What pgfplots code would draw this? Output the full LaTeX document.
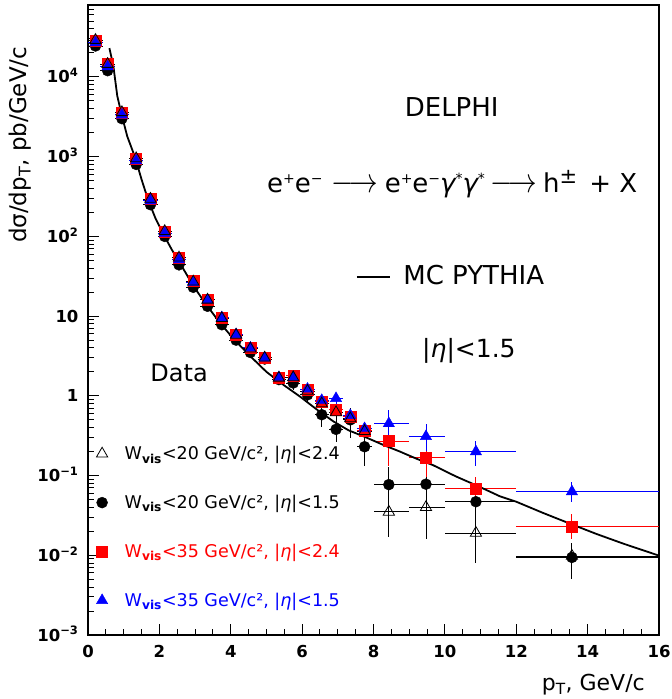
\documentclass[border=0pt]{standalone}
\usepackage{fontspec}
\setmainfont{DejaVu Sans}
\usepackage{graphicx}
\usepackage{pgfplots}
\usepackage{pgfplotstable}
\pgfplotsset{compat=1.18}
\newcommand\sups[2][14]{\raisebox{9pt}{\fontsize{#1}{#1}\selectfont #2}}
\newcommand\arr{\scalebox{1.15}[1.4]{$\longrightarrow$}}

\pgfplotstableread{
x y exm exp eyp eym
0.21 28500 0.2 0.2 2500 2500
0.55 14500 0.2 0.2 1300 1300
0.95 3600 0.2 0.2 300 300
1.35 950 0.2 0.2 80 80
1.75 295 0.2 0.2 25 25
2.15 116 0.2 0.2 10 10
2.55 54 0.2 0.2 5 5
2.95 27.5 0.2 0.2 2.5 2.5
3.35 16.2 0.2 0.2 1.5 1.5
3.75 9.6 0.2 0.2 0.9 0.9
4.15 5.9 0.2 0.2 0.6 0.6
4.55 4.0 0.2 0.2 0.4 0.4
4.95 3.0 0.2 0.2 0.3 0.3
5.35 1.68 0.2 0.2 0.2 0.2
5.75 1.80 0.2 0.2 0.22 0.22
6.15 1.20 0.2 0.2 0.15 0.15
6.55 0.85 0.2 0.2 0.12 0.12
6.95 0.68 0.2 0.2 0.14 0.14
7.35 0.55 0.2 0.2 0.1 0.1
7.75 0.37 0.2 0.2 0.08 0.08
8.43 0.27 0.43 0.57 0.106 0.14
9.47 0.17 0.47 0.53 0.14 0.073
10.87 0.068 0.87 1.13 0.027 0.014
13.56 0.023 1.56 2.44 0.0095 0.007
}\redtab

\pgfplotstableread{
x y exm exp eyp eym
0.21 27000 0.2 0.2 2400 2400
0.55 13500 0.2 0.2 1200 1200
0.95 3350 0.2 0.2 300 300
1.35 890 0.2 0.2 80 80
1.75 280 0.2 0.2 25 25
2.15 110 0.2 0.2 10 10
2.55 51 0.2 0.2 5 5
2.95 26.5 0.2 0.2 2.5 2.5
3.35 16.0 0.2 0.2 1.5 1.5
3.75 9.6 0.2 0.2 0.9 0.9
4.15 5.9 0.2 0.2 0.6 0.6
4.55 4.0 0.2 0.2 0.4 0.4
4.95 3.0 0.2 0.2 0.3 0.3
5.35 1.70 0.2 0.2 0.2 0.2
5.75 1.70 0.2 0.2 0.22 0.22
6.15 1.22 0.2 0.2 0.15 0.15
6.55 0.88 0.2 0.2 0.13 0.13
6.95 0.93 0.2 0.2 0.15 0.15
7.35 0.57 0.2 0.2 0.1 0.1
7.75 0.39 0.2 0.2 0.08 0.08
8.43 0.45 0.43 0.57 0.22 0.17
9.47 0.31 0.47 0.53 0.14 0.105
10.87 0.20 0.87 1.13 0.07 0.07
13.56 0.063 1.56 2.44 0.021 0.017
}\bluetab

\pgfplotstableread{
x y exm exp eyp eym
0.21 24500 0.2 0.2 2200 2200
0.55 12000 0.2 0.2 1100 1100
0.95 3000 0.2 0.2 270 270
1.35 800 0.2 0.2 70 70
1.75 250 0.2 0.2 22 22
2.15 100 0.2 0.2 9 9
2.55 44 0.2 0.2 4 4
2.95 23 0.2 0.2 2.2 2.2
3.35 13.3 0.2 0.2 1.3 1.3
3.75 7.8 0.2 0.2 0.8 0.8
4.15 5.0 0.2 0.2 0.5 0.5
4.55 3.5 0.2 0.2 0.4 0.4
4.95 2.9 0.2 0.2 0.35 0.35
5.35 1.6 0.2 0.2 0.22 0.22
5.75 1.45 0.2 0.2 0.25 0.25
6.15 1.03 0.2 0.2 0.2 0.2
6.55 0.58 0.2 0.2 0.24 0.17
6.95 0.38 0.2 0.2 0.25 0.12
7.35 0.50 0.2 0.2 0.2 0.2
7.75 0.23 0.2 0.2 0.08 0.1
8.43 0.077 0.43 0.57 0.05 0.027
9.47 0.078 0.47 0.53 0.04 0.028
10.87 0.047 0.87 1.13 0.02 0.015
13.56 0.0094 1.56 2.44 0.005 0.0044
}\blacktab

\pgfplotstableread{
x y exm exp eyp eym
0.21 29000 0.2 0.2 2500 2500
0.55 14500 0.2 0.2 1300 1300
0.95 3600 0.2 0.2 300 300
1.35 950 0.2 0.2 80 80
1.75 295 0.2 0.2 25 25
2.15 116 0.2 0.2 10 10
2.55 54 0.2 0.2 5 5
2.95 27 0.2 0.2 2.5 2.5
3.35 16 0.2 0.2 1.5 1.5
3.75 9.4 0.2 0.2 0.9 0.9
4.15 5.8 0.2 0.2 0.6 0.6
4.55 3.9 0.2 0.2 0.4 0.4
4.95 3.0 0.2 0.2 0.3 0.3
5.35 1.68 0.2 0.2 0.2 0.2
5.75 1.70 0.2 0.2 0.22 0.22
6.15 1.15 0.2 0.2 0.15 0.15
6.55 0.80 0.2 0.2 0.14 0.14
6.95 0.62 0.2 0.2 0.15 0.15
7.35 0.52 0.2 0.2 0.12 0.12
7.75 0.36 0.2 0.2 0.09 0.09
8.43 0.035 0.43 0.57 0.015 0.018
9.47 0.040 0.47 0.53 0.033 0.024
10.87 0.019 0.87 1.13 0.017 0.011
13.56 0.0098 1.56 2.44 0.003 0.003
}\opentab

\pgfplotstableread{
x y
0.60 23000
0.71 13800
0.82 5800
0.94 3400
1.10 1800
1.32 980
1.50 520
1.69 282
1.90 165
2.11 107
2.35 68
2.58 46
2.95 24
3.32 13.8
3.70 8.2
4.07 5.25
4.50 3.3
5.00 2.0
5.50 1.35
5.94 0.98
6.40 0.68
6.87 0.48
7.30 0.37
7.80 0.30
8.25 0.245
8.74 0.200
9.20 0.163
9.67 0.135
10.30 0.098
10.98 0.072
11.54 0.055
12.00 0.047
12.75 0.034
13.50 0.025
14.25 0.0185
15.00 0.0140
16.00 0.0099
}\mctab

\begin{document}
\begin{tikzpicture}
\begin{axis}[
  scale only axis, width=571pt, height=630pt,
  xmin=0, xmax=16, ymode=log, ymin=1e-3, ymax=8e4,
  axis line style={line width=1.6pt},
  tick align=inside, xtick pos=bottom, ytick pos=left,
  xtick={0,2,...,16}, xticklabels={0,2,4,6,8,10,12,14,16},
  minor x tick num=3,
  ytick={1e-3,1e-2,1e-1,1,10,100,1000,10000},
  yticklabels={10\textsuperscript{−3},10\textsuperscript{−2},10\textsuperscript{−1},1,10,10\textsuperscript{2},10\textsuperscript{3},10\textsuperscript{4}},
  minor ytick={2e-3,3e-3,4e-3,5e-3,6e-3,7e-3,8e-3,9e-3,2e-2,3e-2,4e-2,5e-2,6e-2,7e-2,8e-2,9e-2,0.2,0.3,0.4,0.5,0.6,0.7,0.8,0.9,2,3,4,5,6,7,8,9,20,30,40,50,60,70,80,90,200,300,400,500,600,700,800,900,2000,3000,4000,5000,6000,7000,8000,9000,20000,30000,40000,50000,60000,70000,80000},
  major tick length=11pt, minor tick length=6pt,
  every tick/.style={line width=1pt, black},
  ticklabel style={font=\fontsize{16.5}{19}\selectfont\bfseries},
  yticklabel style={anchor=base east, xshift=-6pt, yshift=-6pt},
  xticklabel style={anchor=base, yshift=-22pt},
  legend cell align=left,
  legend style={at={(axis description cs:0.0145,0.303)}, anchor=north west, draw=none, fill=none,
    row sep=30pt, column sep=15pt, font=\fontsize{17.5}{20}\selectfont, inner sep=0pt},
  clip=false,
]
\addlegendimage{only marks, mark=triangle, mark size=6.5pt, black, mark options={line width=0.8pt}}
\addlegendentry{W\textsubscript{\bfseries vis}<20 GeV/c², |{\itshape η}|<2.4}
\addlegendimage{only marks, mark=*, mark size=5.5pt, black}
\addlegendentry{W\textsubscript{\bfseries vis}<20 GeV/c², |{\itshape η}|<1.5}
\addlegendimage{only marks, mark=square*, mark size=5.5pt, red}
\addlegendentry{\textcolor{red}{W\textsubscript{\bfseries vis}<35 GeV/c², |{\itshape η}|<2.4}}
\addlegendimage{only marks, mark=triangle*, mark size=6.5pt, blue}
\addlegendentry{\textcolor{blue}{W\textsubscript{\bfseries vis}<35 GeV/c², |{\itshape η}|<1.5}}

\addplot[only marks, mark=*, mark size=5.5pt, black, forget plot,
  error bars/.cd, x dir=both, x explicit, y dir=both, y explicit, error mark=none,
  error bar style={line width=0.9pt, black}]
  table[x=x, y=y, x error plus=exp, x error minus=exm, y error plus=eyp, y error minus=eym] {\blacktab};
\addplot[only marks, mark=square*, mark size=5.5pt, red, forget plot,
  error bars/.cd, x dir=both, x explicit, y dir=both, y explicit, error mark=none,
  error bar style={line width=0.9pt, red}]
  table[x=x, y=y, x error plus=exp, x error minus=exm, y error plus=eyp, y error minus=eym] {\redtab};
\addplot[only marks, mark=triangle*, mark size=6.5pt, blue, forget plot,
  error bars/.cd, x dir=both, x explicit, y dir=both, y explicit, error mark=none,
  error bar style={line width=0.9pt, blue}]
  table[x=x, y=y, x error plus=exp, x error minus=exm, y error plus=eyp, y error minus=eym] {\bluetab};
\addplot[only marks, mark=triangle, mark size=6.5pt, black, mark options={line width=0.8pt, fill=none}, forget plot,
  error bars/.cd, x dir=both, x explicit, y dir=both, y explicit, error mark=none,
  error bar style={line width=0.9pt, black}]
  table[x=x, y=y, x error plus=exp, x error minus=exm, y error plus=eyp, y error minus=eym] {\opentab};
\addplot[black, line width=1.8pt, forget plot] table[x=x, y=y] {\mctab};

\node[font=\fontsize{26}{30}\selectfont] at (axis description cs:0.637,0.838) {DELPHI};
\node[font=\fontsize{26}{30}\selectfont, anchor=base west, inner sep=0pt] at (axis description cs:0.3135,0.703)
  {e\sups{+}e\sups{−}\hspace{9pt}\arr\hspace{7pt}e\sups{+}e\sups{−}{\itshape γ}\sups{*}{\itshape γ}\sups{*}\hspace{6pt}\arr\hspace{6pt}h\sups[21]{±}\hspace{4pt} + X};
\draw[line width=1.8pt] (axis description cs:0.471,0.568) -- (axis description cs:0.529,0.568);
\node[font=\fontsize{26}{30}\selectfont, anchor=base west, inner sep=0pt] at (axis description cs:0.552,0.556) {MC PYTHIA};
\node[font=\fontsize{25}{30}\selectfont, anchor=base west, inner sep=0pt] at (axis description cs:0.585,0.441) {|{\itshape η}|<1.5};
\node[font=\fontsize{24}{30}\selectfont, anchor=base west, inner sep=0pt] at (axis description cs:0.109,0.402) {Data};
\node[font=\fontsize{22}{26}\selectfont, anchor=base east, inner sep=0pt] at (axis description cs:0.9755,-0.0873) {p\textsubscript{T}, GeV/c};
\node[font=\fontsize{23}{26}\selectfont, anchor=base west, rotate=90, inner sep=0pt] at (axis description cs:-0.107,0.622) {dσ/dp\textsubscript{T}, pb/GeV/c};
\end{axis}
\pgfresetboundingbox
\path[use as bounding box] ([shift={(-88pt,-64pt)}]current axis.south west) rectangle ([shift={(13pt,5pt)}]current axis.north east);
\end{tikzpicture}
\end{document}
